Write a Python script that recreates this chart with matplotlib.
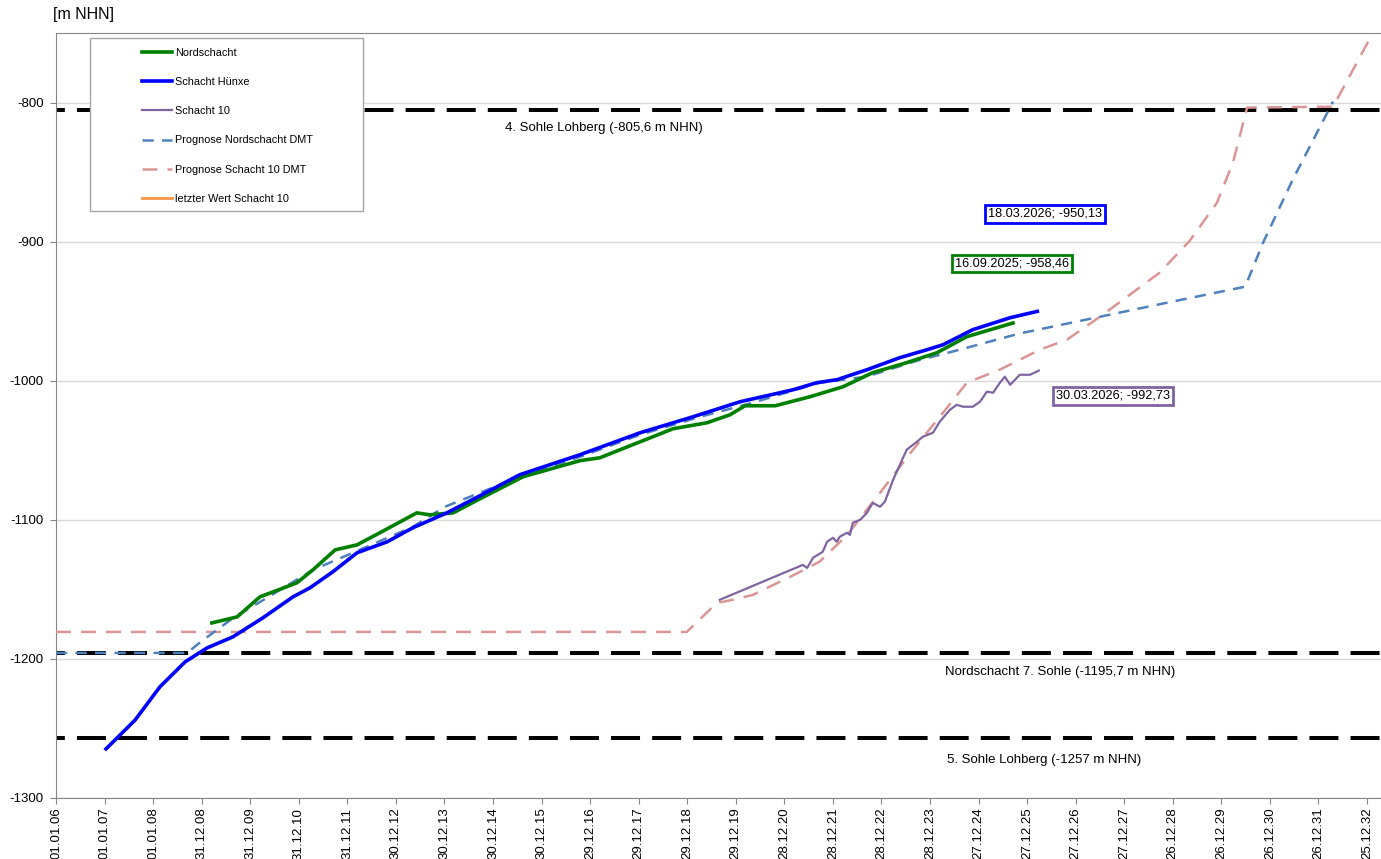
import pandas as pd
import matplotlib
matplotlib.use("Agg")
import matplotlib.pyplot as plt
from matplotlib.patches import Rectangle

plt.rcParams["font.family"] = ["Liberation Sans", "DejaVu Sans"]
plt.rcParams["axes.unicode_minus"] = False

# --- data (decimal years, m NHN) ---
nord_yr = [2009.21, 2009.73, 2010.20, 2010.96, 2011.29, 2011.75, 2012.20, 2012.67,
           2013.43, 2013.70, 2014.18, 2014.73, 2015.62, 2016.79, 2017.20, 2018.03,
           2018.71, 2019.41, 2019.88, 2020.19, 2020.81, 2021.53, 2022.21, 2022.82,
           2023.52, 2024.14, 2024.76, 2025.71]
nord_val = [-1174.1, -1169.8, -1155.4, -1145.3, -1136.0, -1121.6, -1118.0, -1109.3,
            -1095.0, -1096.4, -1095.0, -1084.9, -1069.0, -1057.5, -1055.4, -1043.9,
            -1034.5, -1030.2, -1024.5, -1018.0, -1018.0, -1011.5, -1004.3, -994.2,
            -987.0, -979.9, -968.3, -958.46]

huenxe_yr = [2007.03, 2007.63, 2008.14, 2008.66, 2009.11, 2009.64, 2010.26, 2010.88,
             2011.23, 2011.70, 2012.20, 2012.82, 2013.35, 2014.05, 2014.73, 2015.55,
             2016.79, 2018.03, 2019.12, 2020.09, 2021.18, 2021.67, 2022.08, 2022.70,
             2023.38, 2023.94, 2024.27, 2024.88, 2025.65, 2026.21]
huenxe_val = [-1264.7, -1243.9, -1220.1, -1202.1, -1192.1, -1184.2, -1170.5, -1155.4,
              -1148.9, -1137.4, -1123.7, -1115.8, -1105.7, -1095.0, -1082.7, -1067.6,
              -1053.2, -1037.4, -1025.9, -1015.1, -1006.5, -1001.4, -999.3, -992.1,
              -983.4, -977.7, -974.1, -963.3, -954.7, -950.13]

s10_yr = [2019.67, 2021.38, 2021.47, 2021.59, 2021.79, 2021.88, 2022.00, 2022.08,
          2022.14, 2022.29, 2022.35, 2022.41, 2022.56, 2022.70, 2022.82, 2022.97,
          2023.07, 2023.24, 2023.52, 2023.73, 2023.85, 2024.06, 2024.20, 2024.41,
          2024.55, 2024.68, 2024.88, 2025.03, 2025.17, 2025.30, 2025.44, 2025.54,
          2025.65, 2025.85, 2026.06, 2026.24]
s10_val = [-1157.5, -1132.4, -1134.6, -1127.3, -1123.0, -1115.8, -1112.9, -1115.8,
           -1112.2, -1109.3, -1110.8, -1102.1, -1100.0, -1095.0, -1087.8, -1090.6,
           -1087.0, -1071.2, -1049.6, -1043.9, -1040.3, -1037.4, -1029.5, -1020.9,
           -1017.3, -1018.7, -1018.7, -1015.1, -1007.9, -1008.6, -1001.4, -997.1,
           -1002.9, -995.7, -995.7, -992.73]

prog_nord_yr = [2006.00, 2008.70, 2008.97, 2009.65, 2010.35, 2011.29, 2012.40, 2013.35,
                2014.01, 2015.14, 2016.79, 2018.03, 2019.26, 2020.35, 2021.73, 2022.70,
                2023.79, 2024.47, 2025.85, 2027.50, 2028.88, 2030.49, 2030.86, 2031.47,
                2032.30]
prog_nord_val = [-1195.7, -1195.7, -1188.0, -1170.5, -1156.0, -1136.0, -1119.4, -1105.0,
                 -1090.6, -1074.8, -1054.7, -1038.8, -1026.0, -1015.8, -1001.4, -997.0,
                 -985.0, -979.0, -966.0, -954.0, -943.9, -932.4, -900.7, -855.4,
                 -799.3]

prog_s10_yr = [2006.00, 2018.99, 2019.61, 2019.94, 2020.35, 2020.70, 2021.12, 2021.73,
               2022.29, 2022.97, 2023.65, 2024.20, 2024.76, 2025.44, 2026.26, 2026.82,
               2027.50, 2028.73, 2029.35, 2029.91, 2030.24, 2030.53, 2032.30, 2033.29]
prog_s10_val = [-1180.6, -1180.6, -1159.7, -1157.5, -1154.0, -1148.0, -1141.0, -1130.0,
                -1111.0, -1080.6, -1049.6, -1026.0, -1001.4, -992.0, -977.7, -970.5,
                -954.0, -922.3, -899.3, -872.0, -843.0, -803.6, -803.0, -739.0]

levels = [-805.6, -1195.7, -1257.0]
level_labels = ["4. Sohle Lohberg (-805,6 m NHN)",
                "Nordschacht 7. Sohle (-1195,7 m NHN)",
                "5. Sohle Lohberg (-1257 m NHN)"]

last_labels = ["18.03.2026; -950,13", "16.09.2025; -958,46", "30.03.2026; -992,73"]

START = pd.Timestamp("2006-01-01")


def to_dates(years):
    # axis ticks are spaced 365 days apart, so a "year" here is 365 days
    return [START + pd.Timedelta(days=(y - 2006.0) * 365.0) for y in years]


fig = plt.figure(figsize=(13.81, 8.59), dpi=100)
ax = fig.add_axes([56 / 1381, 61 / 859, 1325 / 1381, 765 / 859])

# reference levels
black_dash = (5, (7.2, 3.0))
for lv in levels:
    ax.axhline(lv, color="black", lw=2.9, linestyle=black_dash, zorder=2)

ax.plot(to_dates(prog_s10_yr), prog_s10_val, color="#D99694", lw=1.8,
        linestyle=(0, (6, 4)), zorder=3, label="Prognose Schacht 10 DMT")
ax.plot(to_dates(prog_nord_yr), prog_nord_val, color="#4F81BD", lw=1.8,
        linestyle=(0, (4.5, 3.3)), zorder=3, label="Prognose Nordschacht DMT")
ax.plot(to_dates(s10_yr), s10_val, color="#8064A2", lw=1.6, zorder=3, label="Schacht 10")
ax.plot(to_dates(nord_yr), nord_val, color="#008000", lw=2.6, zorder=3, label="Nordschacht")
ax.plot(to_dates(huenxe_yr), huenxe_val, color="#0000FF", lw=2.6, zorder=3,
        label="Schacht Hünxe")
ax.plot([], [], color="#F79646", lw=2.0, label="letzter Wert Schacht 10")

# level labels
ax.text(to_dates([2017.28])[0], -818, level_labels[0], ha="center", va="center", fontsize=9.5)
ax.text(to_dates([2024.31])[0], -1209.5, level_labels[1], ha="left", va="center", fontsize=9.5)
ax.text(to_dates([2024.35])[0], -1272.6, level_labels[2], ha="left", va="center", fontsize=9.5)

# last value boxes
box_specs = [(2026.37, -880.0, "#0000FF"), (2025.69, -915.8, "#008000"),
             (2027.77, -1010.8, "#8064A2")]
for (bx, by, col), txt in zip(box_specs, last_labels):
    ax.text(to_dates([bx])[0], by, txt, ha="center", va="center", fontsize=9.2,
            bbox=dict(boxstyle="square,pad=0.22", facecolor="white", edgecolor=col, lw=2),
            zorder=6)

# axes
ax.set_ylim(-1300, -750)
ax.set_xlim(START, START + pd.Timedelta(days=9960))
yt = [-1300, -1200, -1100, -1000, -900, -800]
ax.set_yticks(yt)
ax.set_yticklabels([str(v) for v in yt], fontsize=9.5)
xt = [START + pd.Timedelta(days=365 * k) for k in range(28)]
ax.set_xticks(xt)
ax.set_xticklabels([d.strftime("%d.%m.%y") for d in xt], rotation=90, fontsize=9.5)
ax.tick_params(axis="both", direction="out", length=4, color="#868686", pad=3)
ax.tick_params(axis="y", pad=5)
ax.yaxis.grid(True, color="#D9D9D9", lw=1.0, zorder=0)
ax.set_axisbelow(True)
for side in ["left", "bottom", "top"]:
    ax.spines[side].set_color("#868686")
ax.spines["right"].set_visible(False)

fig.text(53 / 1381, 1 - 15 / 859, "[m NHN]", ha="left", va="center", fontsize=11.5)

# legend with a separate, wider frame
order = ["Nordschacht", "Schacht Hünxe", "Schacht 10", "Prognose Nordschacht DMT",
         "Prognose Schacht 10 DMT", "letzter Wert Schacht 10"]
handles, labels = ax.get_legend_handles_labels()
hmap = dict(zip(labels, handles))
ax.add_patch(Rectangle((0.0257, 0.7673), 0.206, 0.2262, transform=ax.transAxes,
                       facecolor="white", edgecolor="#A6A6A6", lw=1, zorder=4.5))
leg = ax.legend([hmap[k] for k in order], order, loc="upper left",
                bbox_to_anchor=(0.0605, 0.988), frameon=False, fontsize=7.8,
                borderpad=0, handlelength=2.8, handletextpad=0.3, labelspacing=1.78)
leg.set_zorder(5)

fig.savefig("out.png", dpi=100)
